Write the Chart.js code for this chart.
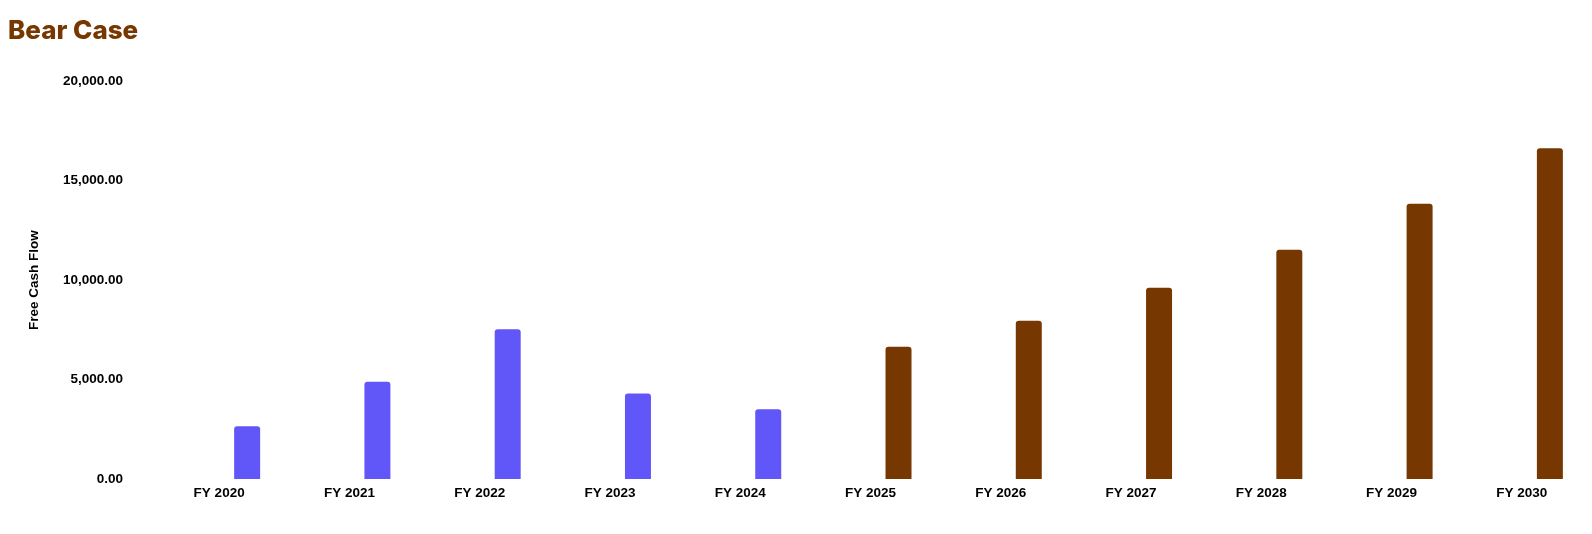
<!DOCTYPE html>
<html>
<head>
<meta charset="utf-8">
<script src="https://cdn.jsdelivr.net/npm/chart.js@4"></script>
<style>
  html, body { margin: 0; padding: 0; background: #ffffff; }
  #wrap { position: relative; width: 1592px; height: 534px; }
</style>
</head>
<body>
<div id="wrap"><canvas id="fcf"></canvas></div>
<script>
// Fiscal years on the x axis
const categories = ['FY 2020', 'FY 2021', 'FY 2022', 'FY 2023', 'FY 2024', 'FY 2025', 'FY 2026', 'FY 2027', 'FY 2028', 'FY 2029', 'FY 2030'];

// Reported free cash flow (blue) and bear-case projection (brown)
const historical = [2650, 4890, 7525, 4300, 3505, null, null, null, null, null, null];
const projected = [null, null, null, null, null, 6650, 7955, 9615, 11525, 13835, 16635];

// Empty slot that pushes the bars to the right half of each category
const placeholder = categories.map(() => null);

const yTicks = [0, 5000, 10000, 15000, 20000];

const BLUE = '#6157F8';
const BROWN = '#763700';

Chart.defaults.font = {
  family: '"Liberation Sans", Arial, sans-serif',
  size: 13.5,
  weight: 'bold',
  lineHeight: 1.2,
};
Chart.defaults.color = '#000000';

const barStyle = {
  categoryPercentage: 0.86,
  barPercentage: 0.464,
  borderRadius: { topLeft: 3, topRight: 3 },
  borderSkipped: 'start',
};

const ctx = document.getElementById('fcf').getContext('2d');

new Chart(ctx, {
  type: 'bar',
  data: {
    labels: categories,
    datasets: [
      { label: '', data: placeholder, stack: 'left', backgroundColor: 'transparent', ...barStyle },
      { label: 'Historical', data: historical, stack: 'right', backgroundColor: BLUE, ...barStyle },
      { label: 'Bear Case', data: projected, stack: 'right', backgroundColor: BROWN, ...barStyle },
    ],
  },
  options: {
    responsive: true,
    maintainAspectRatio: false,
    animation: false,
    devicePixelRatio: 1,
    layout: { padding: { left: 8, right: 5, top: 0, bottom: 0 } },
    scales: {
      x: {
        grid: { display: false, drawTicks: false },
        border: { display: false },
        ticks: { padding: 6, maxRotation: 0, autoSkip: false },
        afterFit: (scale) => { scale.height = 55; },
      },
      y: {
        min: 0,
        max: 20000,
        grid: { display: false, drawTicks: false },
        border: { display: false },
        afterBuildTicks: (scale) => { scale.ticks = yTicks.map((v) => ({ value: v })); },
        ticks: {
          padding: 31,
          callback: (v) => Number(v).toLocaleString('en-US', { minimumFractionDigits: 2, maximumFractionDigits: 2 }),
        },
        title: {
          display: true,
          text: 'Free Cash Flow',
          padding: { top: 18, bottom: 0 },
          font: { size: 13.5, weight: 'bold' },
        },
        afterFit: (scale) => { scale.width = 146; },
      },
    },
    plugins: {
      legend: { display: false },
      tooltip: { enabled: false },
      title: {
        display: true,
        text: 'Bear Case',
        align: 'start',
        color: BROWN,
        font: { family: 'Inter, "Noto Sans", sans-serif', size: 26, weight: 800, lineHeight: 1.2 },
        padding: { top: 16, bottom: 34 },
      },
    },
  },
});
</script>
</body>
</html>
